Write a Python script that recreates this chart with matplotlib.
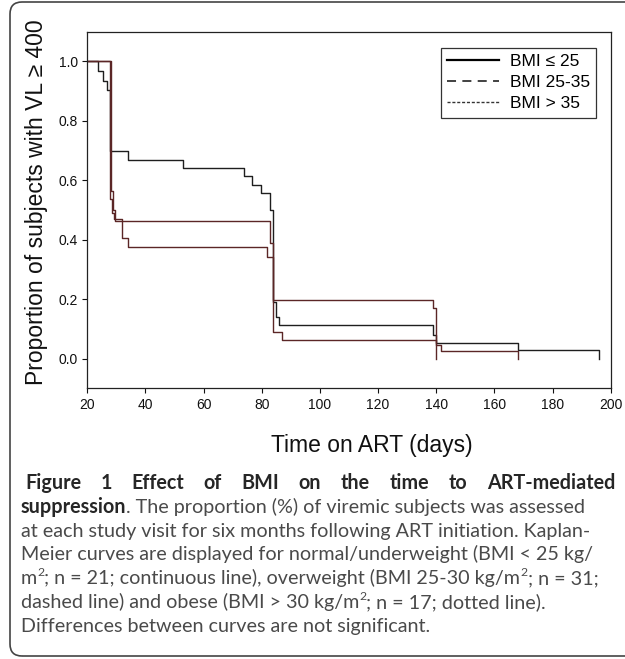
import matplotlib.pyplot as plt
from matplotlib.lines import Line2D
from matplotlib.patches import FancyBboxPatch
from matplotlib.transforms import IdentityTransform

# Kaplan-Meier steps: day of the step, proportion after it
days_a = [20, 23.8, 25.5, 26.7, 27.8, 34.1, 53.0, 73.9, 76.8, 79.9, 82.8,
          83.9, 84.8, 85.9, 138.8, 139.8, 168.1, 195.9]
surv_a = [1.0, 0.968, 0.935, 0.903, 0.698, 0.667, 0.640, 0.614, 0.585, 0.557,
          0.499, 0.192, 0.140, 0.113, 0.081, 0.053, 0.028, 0.0]

days_b = [20, 28.2, 28.9, 29.6, 82.8, 83.9, 138.9, 139.8]
surv_b = [1.0, 0.563, 0.500, 0.464, 0.390, 0.197, 0.169, 0.0]

days_c = [20, 27.8, 28.5, 29.3, 31.8, 34.1, 81.8, 83.7, 87.0, 139.8, 141.7, 168.1]
surv_c = [1.0, 0.537, 0.490, 0.470, 0.405, 0.375, 0.343, 0.090, 0.062, 0.047,
          0.026, 0.0]

legend_labels = ["BMI \u2264 25", "BMI 25-35", "BMI > 35"]
x_ticks = [20, 40, 60, 80, 100, 120, 140, 160, 180, 200]
y_ticks = [0.0, 0.2, 0.4, 0.6, 0.8, 1.0]

caption = [
    [("Figure 1 Effect of BMI on the time to ART-mediated", "bold")],
    [("suppression", "bold"),
     (". The proportion (%) of viremic subjects was assessed", "normal")],
    [("at each study visit for six months following ART initiation. Kaplan-", "normal")],
    [("Meier curves are displayed for normal/underweight (BMI < 25 kg/", "normal")],
    [("m", "normal"), ("2", "sup"),
     ("; n = 21; continuous line), overweight (BMI 25-30 kg/m", "normal"),
     ("2", "sup"), ("; n = 31;", "normal")],
    [("dashed line) and obese (BMI > 30 kg/m", "normal"), ("2", "sup"),
     ("; n = 17; dotted line).", "normal")],
    [("Differences between curves are not significant.", "normal")],
]

plt.rcParams["font.family"] = ["Liberation Sans", "DejaVu Sans"]

W, H = 625, 659
fig = plt.figure(figsize=(W / 100, H / 100), dpi=100)

# outer rounded frame (right side runs off the picture)
frame = FancyBboxPatch((10, 3), 700, 654, boxstyle="round,pad=0,rounding_size=12",
                       transform=IdentityTransform(), fill=False,
                       edgecolor="#444444", linewidth=1.2)
fig.patches.append(frame)

ax = fig.add_axes([87.3 / W, 1 - 388.3 / H, 523.4 / W, 356.6 / H])
ax.step(days_a, surv_a, where="post", color="#1e1e1e", lw=1.0)
ax.step(days_b, surv_b, where="post", color="#5b2626", lw=1.0)
ax.step(days_c, surv_c, where="post", color="#5b2626", lw=1.0)

ax.set_xlim(20, 200)
ax.set_ylim(-0.1, 1.1)
ax.set_xticks(x_ticks)
ax.set_yticks(y_ticks)
ax.set_yticklabels([f"{v:.1f}" for v in y_ticks])
ax.tick_params(direction="out", length=3.8, width=0.8, labelsize=10,
               colors="#111111", pad=3)
for sp in ax.spines.values():
    sp.set_linewidth(0.9)
    sp.set_color("#222222")

handles = [Line2D([], [], color="black", lw=1.6),
           Line2D([], [], color="#333333", lw=1.3, linestyle=(0, (5, 3.5))),
           Line2D([], [], color="#333333", lw=1.0, linestyle=(0, (2.2, 1.3)))]
leg = ax.legend(handles, legend_labels, loc="upper right",
                bbox_to_anchor=(0.972, 0.955), borderaxespad=0, fontsize=12.5,
                handlelength=3.0, handletextpad=0.6, labelspacing=0.35,
                borderpad=0.35, fancybox=False, framealpha=1)
leg.get_frame().set_edgecolor("#333333")
leg.get_frame().set_linewidth(0.9)

fig.text(371.5 / W, 1 - 452 / H, "Time on ART (days)", ha="center",
         va="baseline", fontsize=16.5, color="#111111")
fig.text(37 / W, 1 - 202 / H, "Proportion of subjects with VL \u2265 400",
         ha="center", va="center", rotation=90, fontsize=16.5, color="#111111")

# caption, drawn segment by segment
renderer = fig.canvas.get_renderer()
cap_font = ["Lato", "DejaVu Sans"]


def put(x, y, s, style, size):
    if style == "sup":
        t = fig.text(x, y + 0.42 * size * 100 / 72, s, fontsize=size * 0.62,
                     family=cap_font, color="#4a4a4a",
                     transform=IdentityTransform(), va="baseline")
    else:
        t = fig.text(x, y, s, fontsize=size, family=cap_font,
                     weight="bold" if style == "bold" else "normal",
                     color="#262626" if style == "bold" else "#4a4a4a",
                     transform=IdentityTransform(), va="baseline")
    return t.get_window_extent(renderer).width


probe = fig.text(0, 0, caption[2][0][0], fontsize=12, family=cap_font,
                 transform=IdentityTransform())
cap_size = 12 * 567 / probe.get_window_extent(renderer).width
probe.remove()

x_left, first_base, line_gap = 21, 489, 23.8
for i, line in enumerate(caption):
    y = H - (first_base + i * line_gap)
    if i == 0:
        words = line[0][0].split()
        tmp = [fig.text(0, 0, w, fontsize=cap_size, family=cap_font,
                        weight="bold", transform=IdentityTransform())
               for w in words]
        widths = [t.get_window_extent(renderer).width for t in tmp]
        for t in tmp:
            t.remove()
        gap = (615 - 25 - sum(widths)) / (len(words) - 1)
        x = 25
        for w, wd in zip(words, widths):
            put(x, y, w, "bold", cap_size)
            x += wd + gap
    else:
        x = x_left
        for s, style in line:
            x += put(x, y, s, style, cap_size)

fig.savefig("out.png", dpi=100)
